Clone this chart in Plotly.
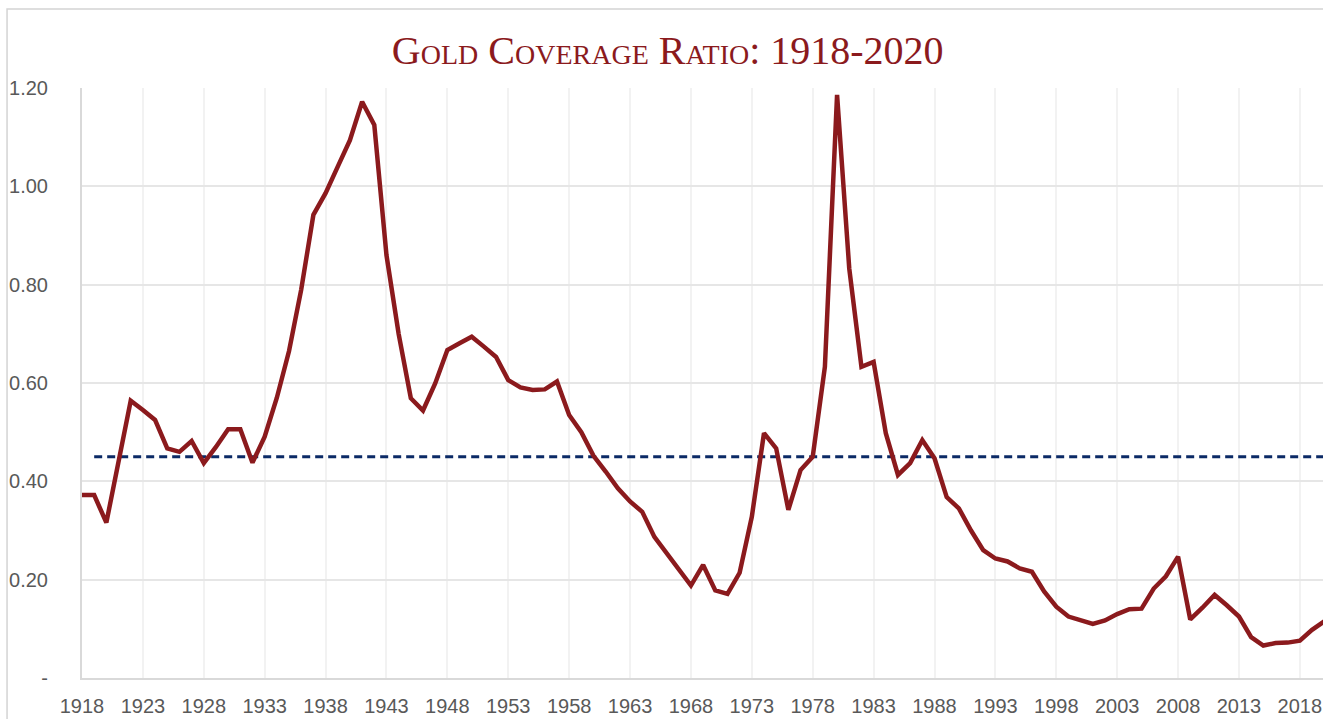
"""Gold coverage ratio 1918-2020."""
import plotly.graph_objects as go

MAROON = "#8B1A1D"
NAVY = "#0B2A66"
GRID = "#E6E6E6"
TICK_GREY = "#595959"

years = list(range(1918, 2021))
ratio = [
    0.372, 0.372, 0.316, 0.445, 0.564, 0.545, 0.525, 0.467, 0.460, 0.482,  # 1918-1927
    0.437, 0.470, 0.506, 0.506, 0.438, 0.491, 0.570, 0.665, 0.790, 0.942,  # 1928-1937
    0.986, 1.040, 1.094, 1.172, 1.125, 0.860, 0.700, 0.569, 0.544, 0.599,  # 1938-1947
    0.667, 0.681, 0.694, 0.674, 0.653, 0.606, 0.591, 0.586, 0.587, 0.603,  # 1948-1957
    0.535, 0.500, 0.452, 0.420, 0.386, 0.359, 0.338, 0.287, 0.254, 0.220,  # 1958-1967
    0.188, 0.230, 0.178, 0.171, 0.214, 0.328, 0.498, 0.467, 0.342, 0.423,  # 1968-1977
    0.450, 0.633, 1.186, 0.833, 0.633, 0.643, 0.498, 0.413, 0.437, 0.484,  # 1978-1987
    0.447, 0.368, 0.345, 0.300, 0.260, 0.243, 0.237, 0.223, 0.216, 0.176,  # 1988-1997
    0.145, 0.125, 0.118, 0.110, 0.117, 0.130, 0.140, 0.141, 0.182, 0.207,  # 1998-2007
    0.247, 0.119, 0.143, 0.169, 0.148, 0.125, 0.083, 0.066, 0.071, 0.072,  # 2008-2017
    0.076, 0.098, 0.115,                                                  # 2018-2020
]
avg_years = [1919, 2020]
avg_ratio = [0.45, 0.45]

x_ticks = list(range(1918, 2019, 5))
y_ticks = [0, 0.2, 0.4, 0.6, 0.8, 1.0, 1.2]
y_labels = ["-", "0.20", "0.40", "0.60", "0.80", "1.00", "1.20"]

TICK_FONT = dict(family="Liberation Sans", size=20, color=TICK_GREY)

fig = go.Figure()
fig.add_trace(go.Scatter(
    x=avg_years, y=avg_ratio, mode="lines",
    line=dict(color=NAVY, width=3, dash="8px,5px"),
    hoverinfo="skip", showlegend=False,
))
fig.add_trace(go.Scatter(
    x=years, y=ratio, mode="lines",
    line=dict(color=MAROON, width=4.5),
    name="Gold coverage ratio", showlegend=False,
))

# cadre gris du graphique
fig.add_shape(
    type="rect", xref="paper", yref="paper",
    x0=-0.0604, x1=1.2, y0=-0.2, y1=1.134,
    line=dict(color="#D4D4D4", width=1.5), layer="below",
)

fig.update_layout(
    width=1323, height=719,
    margin=dict(l=82, r=0, t=88, b=41),
    paper_bgcolor="white", plot_bgcolor="white",
    title=dict(
        text="Gold Coverage Ratio: 1918-2020",
        x=0.472, xref="paper", xanchor="center",
        y=1 - 50 / 719, yanchor="middle",
        font=dict(family="Liberation Serif", size=40, color=MAROON,
                  variant="small-caps"),
    ),
    font=dict(family="Liberation Sans", color=TICK_GREY),
)
fig.update_xaxes(
    range=[1918, 2019.9], tickvals=x_ticks,
    showgrid=True, gridcolor="#F2F2F2", gridwidth=1.5,
    showline=True, linecolor="#D9D9D9", linewidth=2,
    zeroline=False, tickfont=TICK_FONT,
    ticks="", ticklabelstandoff=9,
)
fig.update_yaxes(
    range=[0, 1.2], tickvals=y_ticks, ticktext=y_labels,
    showgrid=True, gridcolor=GRID, gridwidth=2,
    showline=True, linecolor="#D9D9D9", linewidth=2,
    zeroline=False, tickfont=TICK_FONT,
    ticks="", ticklabelstandoff=28,
)

# pas de marge autour de la page, pas de barre d'outils
fig.write_html(
    "out.html",
    config={"displayModeBar": False},
    post_script="document.body.style.margin = '0';",
)
